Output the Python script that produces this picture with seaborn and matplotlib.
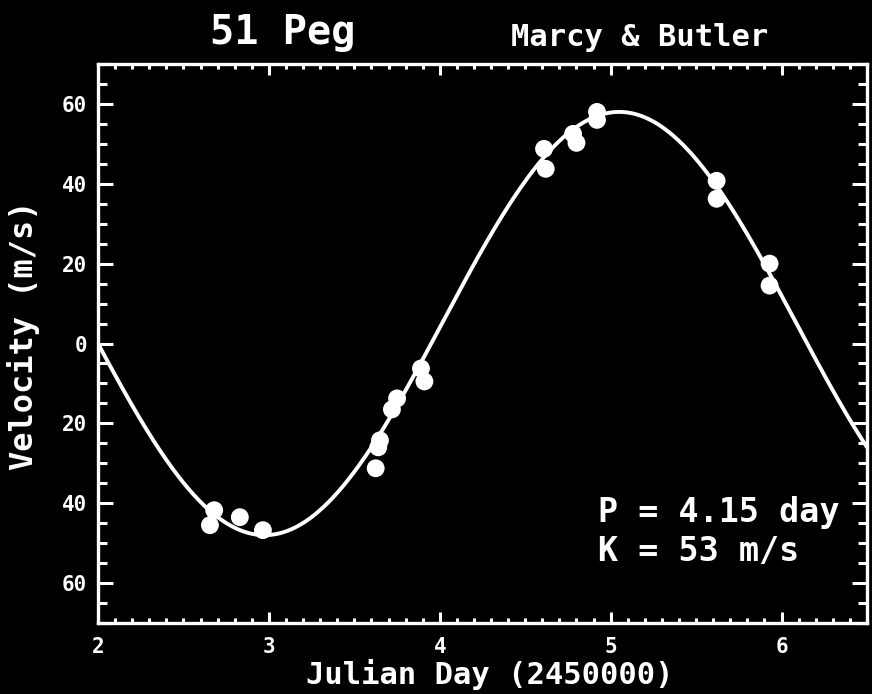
import numpy as np
import pandas as pd
import matplotlib
matplotlib.use("Agg")
import matplotlib.pyplot as plt
import seaborn as sns
from matplotlib.ticker import MultipleLocator

# ---- data ----
jd = [2.655, 2.68, 2.83, 2.965, 3.625, 3.64, 3.65, 3.72, 3.75, 3.89, 3.91,
      4.61, 4.62, 4.78, 4.80, 4.92, 4.92, 5.62, 5.62, 5.93, 5.93]
velocity = [-45.5, -41.75, -43.5, -46.75, -31.25, -26.0, -24.25, -16.5, -13.75,
            -6.25, -9.5, 48.75, 43.75, 52.5, 50.25, 58.0, 56.0, 40.75, 36.25,
            20.0, 14.5]

# fitted orbit parameters (P and K shown on the chart; phase/offset)
period_days = 4.15
semi_amplitude = 53.0
velocity_offset = 5.0
time_of_max = 5.05

x_ticks = [2, 3, 4, 5, 6]
y_ticks = [60, 40, 20, 0, -20, -40, -60]
y_tick_labels = ["60", "40", "20", "0", "20", "40", "60"]

title = "51 Peg"
subtitle = "Marcy & Butler"
annotation = "P = 4.15 day\nK = 53 m/s"

# ---- styling ----
sns.set_theme(style="ticks", rc={
    "figure.facecolor": "black",
    "axes.facecolor": "black",
    "savefig.facecolor": "black",
    "axes.edgecolor": "white",
    "text.color": "white",
    "axes.labelcolor": "white",
    "xtick.color": "white",
    "ytick.color": "white",
})
plt.rcParams["font.family"] = ["DejaVu Sans Mono", "DejaVu Sans"]
plt.rcParams["font.weight"] = "bold"

fig = plt.figure(figsize=(8.72, 6.94), dpi=100)
ax = fig.add_axes([98 / 872, 1 - 623 / 694, 769 / 872, 559 / 694])

df = pd.DataFrame({"jd": jd, "v": velocity})

t = np.linspace(2.0, 6.5, 600)
curve = velocity_offset + semi_amplitude * np.cos(2 * np.pi * (t - time_of_max) / period_days)
sns.lineplot(x=t, y=curve, ax=ax, color="white", linewidth=2.8)
sns.scatterplot(data=df, x="jd", y="v", ax=ax, color="white", s=165,
                edgecolor="none", zorder=3)

ax.set_xlim(2, 6.5)
ax.set_ylim(-70, 70)
ax.set_xticks(x_ticks)
ax.set_yticks(y_ticks, labels=y_tick_labels)
ax.xaxis.set_minor_locator(MultipleLocator(0.1))
ax.yaxis.set_minor_locator(MultipleLocator(5))
ax.tick_params(which="both", direction="in", top=True, right=True, width=2.2,
               labelsize=15)
ax.tick_params(axis="x", which="major", length=8, pad=10)
ax.tick_params(axis="x", which="minor", length=3.5)
ax.tick_params(axis="y", which="major", length=11, pad=8)
ax.tick_params(axis="y", which="minor", length=6.5)
for lbl in ax.get_xticklabels() + ax.get_yticklabels():
    lbl.set_fontweight("bold")
for sp in ax.spines.values():
    sp.set_linewidth(2.4)
    sp.set_color("white")

ax.set_xlabel("Julian Day (2450000)", fontsize=22, fontweight="bold")
ax.set_ylabel("Velocity (m/s)", fontsize=23, fontweight="bold")
ax.xaxis.set_label_coords((490 - 98) / 769, (623 - 659) / 559)
ax.yaxis.set_label_coords((40 - 98) / 769, (623 - 335) / 559)

fig.text(283 / 872, 1 - 33 / 694, title, ha="center", va="center",
         fontsize=29, fontweight="bold")
fig.text(640 / 872, 1 - 38 / 694, subtitle, ha="center", va="center",
         fontsize=22, fontweight="bold")
ax.text((598 - 98) / 769, (623 - 496) / 559, annotation, transform=ax.transAxes,
        ha="left", va="top", fontsize=24, fontweight="bold", linespacing=1.22)

fig.savefig("out.png", dpi=100, facecolor="black")
